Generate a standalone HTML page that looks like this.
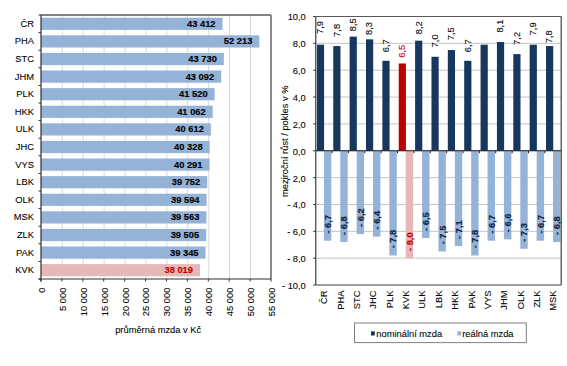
<!DOCTYPE html>
<html><head><meta charset="utf-8"><style>
html,body{margin:0;padding:0;background:#fff;width:567px;height:366px;overflow:hidden}

</style></head><body>
<svg width="567" height="366" viewBox="0 0 567 366" style="display:block">
<rect x="0" y="0" width="567" height="366" fill="#ffffff"/>
<line x1="62.31" y1="15.0" x2="62.31" y2="279.0" stroke="#dadada" stroke-width="1"/>
<line x1="83.22" y1="15.0" x2="83.22" y2="279.0" stroke="#dadada" stroke-width="1"/>
<line x1="104.13" y1="15.0" x2="104.13" y2="279.0" stroke="#dadada" stroke-width="1"/>
<line x1="125.04" y1="15.0" x2="125.04" y2="279.0" stroke="#dadada" stroke-width="1"/>
<line x1="145.95" y1="15.0" x2="145.95" y2="279.0" stroke="#dadada" stroke-width="1"/>
<line x1="166.86" y1="15.0" x2="166.86" y2="279.0" stroke="#dadada" stroke-width="1"/>
<line x1="187.77" y1="15.0" x2="187.77" y2="279.0" stroke="#dadada" stroke-width="1"/>
<line x1="208.68" y1="15.0" x2="208.68" y2="279.0" stroke="#dadada" stroke-width="1"/>
<line x1="229.59" y1="15.0" x2="229.59" y2="279.0" stroke="#dadada" stroke-width="1"/>
<line x1="250.50" y1="15.0" x2="250.50" y2="279.0" stroke="#dadada" stroke-width="1"/>
<rect x="41.0" y="17.69" width="181.54" height="12.22" fill="#95B3D7"/>
<text x="215.54" y="26.70" text-anchor="end" font-family='"Liberation Sans", sans-serif' font-size="9.33" font-weight="bold" fill="#000000" stroke="#000000" stroke-width="0.15">43 412</text>
<text x="34" y="26.70" text-anchor="end" font-family='"Liberation Sans", sans-serif' font-size="9.33" fill="#000000" stroke="#000000" stroke-width="0.08">ČR</text>
<rect x="41.0" y="35.29" width="218.35" height="12.22" fill="#95B3D7"/>
<text x="252.35" y="44.30" text-anchor="end" font-family='"Liberation Sans", sans-serif' font-size="9.33" font-weight="bold" fill="#000000" stroke="#000000" stroke-width="0.15">52 213</text>
<text x="34" y="44.30" text-anchor="end" font-family='"Liberation Sans", sans-serif' font-size="9.33" fill="#000000" stroke="#000000" stroke-width="0.08">PHA</text>
<rect x="41.0" y="52.89" width="182.87" height="12.22" fill="#95B3D7"/>
<text x="216.87" y="61.90" text-anchor="end" font-family='"Liberation Sans", sans-serif' font-size="9.33" font-weight="bold" fill="#000000" stroke="#000000" stroke-width="0.15">43 730</text>
<text x="34" y="61.90" text-anchor="end" font-family='"Liberation Sans", sans-serif' font-size="9.33" fill="#000000" stroke="#000000" stroke-width="0.08">STC</text>
<rect x="41.0" y="70.49" width="180.20" height="12.22" fill="#95B3D7"/>
<text x="214.20" y="79.50" text-anchor="end" font-family='"Liberation Sans", sans-serif' font-size="9.33" font-weight="bold" fill="#000000" stroke="#000000" stroke-width="0.15">43 092</text>
<text x="34" y="79.50" text-anchor="end" font-family='"Liberation Sans", sans-serif' font-size="9.33" fill="#000000" stroke="#000000" stroke-width="0.08">JHM</text>
<rect x="41.0" y="88.09" width="173.63" height="12.22" fill="#95B3D7"/>
<text x="207.63" y="97.10" text-anchor="end" font-family='"Liberation Sans", sans-serif' font-size="9.33" font-weight="bold" fill="#000000" stroke="#000000" stroke-width="0.15">41 520</text>
<text x="34" y="97.10" text-anchor="end" font-family='"Liberation Sans", sans-serif' font-size="9.33" fill="#000000" stroke="#000000" stroke-width="0.08">PLK</text>
<rect x="41.0" y="105.69" width="171.71" height="12.22" fill="#95B3D7"/>
<text x="205.71" y="114.70" text-anchor="end" font-family='"Liberation Sans", sans-serif' font-size="9.33" font-weight="bold" fill="#000000" stroke="#000000" stroke-width="0.15">41 062</text>
<text x="34" y="114.70" text-anchor="end" font-family='"Liberation Sans", sans-serif' font-size="9.33" fill="#000000" stroke="#000000" stroke-width="0.08">HKK</text>
<rect x="41.0" y="123.29" width="169.83" height="12.22" fill="#95B3D7"/>
<text x="203.83" y="132.30" text-anchor="end" font-family='"Liberation Sans", sans-serif' font-size="9.33" font-weight="bold" fill="#000000" stroke="#000000" stroke-width="0.15">40 612</text>
<text x="34" y="132.30" text-anchor="end" font-family='"Liberation Sans", sans-serif' font-size="9.33" fill="#000000" stroke="#000000" stroke-width="0.08">ULK</text>
<rect x="41.0" y="140.89" width="168.64" height="12.22" fill="#95B3D7"/>
<text x="202.64" y="149.90" text-anchor="end" font-family='"Liberation Sans", sans-serif' font-size="9.33" font-weight="bold" fill="#000000" stroke="#000000" stroke-width="0.15">40 328</text>
<text x="34" y="149.90" text-anchor="end" font-family='"Liberation Sans", sans-serif' font-size="9.33" fill="#000000" stroke="#000000" stroke-width="0.08">JHC</text>
<rect x="41.0" y="158.49" width="168.49" height="12.22" fill="#95B3D7"/>
<text x="202.49" y="167.50" text-anchor="end" font-family='"Liberation Sans", sans-serif' font-size="9.33" font-weight="bold" fill="#000000" stroke="#000000" stroke-width="0.15">40 291</text>
<text x="34" y="167.50" text-anchor="end" font-family='"Liberation Sans", sans-serif' font-size="9.33" fill="#000000" stroke="#000000" stroke-width="0.08">VYS</text>
<rect x="41.0" y="176.09" width="166.24" height="12.22" fill="#95B3D7"/>
<text x="200.24" y="185.10" text-anchor="end" font-family='"Liberation Sans", sans-serif' font-size="9.33" font-weight="bold" fill="#000000" stroke="#000000" stroke-width="0.15">39 752</text>
<text x="34" y="185.10" text-anchor="end" font-family='"Liberation Sans", sans-serif' font-size="9.33" fill="#000000" stroke="#000000" stroke-width="0.08">LBK</text>
<rect x="41.0" y="193.69" width="165.57" height="12.22" fill="#95B3D7"/>
<text x="199.57" y="202.70" text-anchor="end" font-family='"Liberation Sans", sans-serif' font-size="9.33" font-weight="bold" fill="#000000" stroke="#000000" stroke-width="0.15">39 594</text>
<text x="34" y="202.70" text-anchor="end" font-family='"Liberation Sans", sans-serif' font-size="9.33" fill="#000000" stroke="#000000" stroke-width="0.08">OLK</text>
<rect x="41.0" y="211.29" width="165.45" height="12.22" fill="#95B3D7"/>
<text x="199.45" y="220.30" text-anchor="end" font-family='"Liberation Sans", sans-serif' font-size="9.33" font-weight="bold" fill="#000000" stroke="#000000" stroke-width="0.15">39 563</text>
<text x="34" y="220.30" text-anchor="end" font-family='"Liberation Sans", sans-serif' font-size="9.33" fill="#000000" stroke="#000000" stroke-width="0.08">MSK</text>
<rect x="41.0" y="228.89" width="165.20" height="12.22" fill="#95B3D7"/>
<text x="199.20" y="237.90" text-anchor="end" font-family='"Liberation Sans", sans-serif' font-size="9.33" font-weight="bold" fill="#000000" stroke="#000000" stroke-width="0.15">39 505</text>
<text x="34" y="237.90" text-anchor="end" font-family='"Liberation Sans", sans-serif' font-size="9.33" fill="#000000" stroke="#000000" stroke-width="0.08">ZLK</text>
<rect x="41.0" y="246.49" width="164.53" height="12.22" fill="#95B3D7"/>
<text x="198.53" y="255.50" text-anchor="end" font-family='"Liberation Sans", sans-serif' font-size="9.33" font-weight="bold" fill="#000000" stroke="#000000" stroke-width="0.15">39 345</text>
<text x="34" y="255.50" text-anchor="end" font-family='"Liberation Sans", sans-serif' font-size="9.33" fill="#000000" stroke="#000000" stroke-width="0.08">PAK</text>
<rect x="41.0" y="264.09" width="158.99" height="12.22" fill="#E6B9B8"/>
<text x="192.99" y="273.10" text-anchor="end" font-family='"Liberation Sans", sans-serif' font-size="9.33" font-weight="bold" fill="#C00000" stroke="#C00000" stroke-width="0.15">38 019</text>
<text x="34" y="273.10" text-anchor="end" font-family='"Liberation Sans", sans-serif' font-size="9.33" fill="#000000" stroke="#000000" stroke-width="0.08">KVK</text>
<line x1="41.0" y1="15.0" x2="271.0" y2="15.0" stroke="#5a5a5a" stroke-width="1.4"/>
<line x1="271.0" y1="15.0" x2="271.0" y2="279.0" stroke="#5a5a5a" stroke-width="1.4"/>
<line x1="41.0" y1="15.0" x2="41.0" y2="281.5" stroke="#303030" stroke-width="1.2"/>
<line x1="38.5" y1="279.0" x2="271.0" y2="279.0" stroke="#303030" stroke-width="1.2"/>
<line x1="38.5" y1="15.00" x2="41.0" y2="15.00" stroke="#303030" stroke-width="1"/>
<line x1="38.5" y1="32.60" x2="41.0" y2="32.60" stroke="#303030" stroke-width="1"/>
<line x1="38.5" y1="50.20" x2="41.0" y2="50.20" stroke="#303030" stroke-width="1"/>
<line x1="38.5" y1="67.80" x2="41.0" y2="67.80" stroke="#303030" stroke-width="1"/>
<line x1="38.5" y1="85.40" x2="41.0" y2="85.40" stroke="#303030" stroke-width="1"/>
<line x1="38.5" y1="103.00" x2="41.0" y2="103.00" stroke="#303030" stroke-width="1"/>
<line x1="38.5" y1="120.60" x2="41.0" y2="120.60" stroke="#303030" stroke-width="1"/>
<line x1="38.5" y1="138.20" x2="41.0" y2="138.20" stroke="#303030" stroke-width="1"/>
<line x1="38.5" y1="155.80" x2="41.0" y2="155.80" stroke="#303030" stroke-width="1"/>
<line x1="38.5" y1="173.40" x2="41.0" y2="173.40" stroke="#303030" stroke-width="1"/>
<line x1="38.5" y1="191.00" x2="41.0" y2="191.00" stroke="#303030" stroke-width="1"/>
<line x1="38.5" y1="208.60" x2="41.0" y2="208.60" stroke="#303030" stroke-width="1"/>
<line x1="38.5" y1="226.20" x2="41.0" y2="226.20" stroke="#303030" stroke-width="1"/>
<line x1="38.5" y1="243.80" x2="41.0" y2="243.80" stroke="#303030" stroke-width="1"/>
<line x1="38.5" y1="261.40" x2="41.0" y2="261.40" stroke="#303030" stroke-width="1"/>
<line x1="38.5" y1="279.00" x2="41.0" y2="279.00" stroke="#303030" stroke-width="1"/>
<line x1="41.00" y1="279.0" x2="41.00" y2="281.5" stroke="#303030" stroke-width="1"/>
<text transform="translate(44.90,287.6) rotate(-90)" text-anchor="end" font-family='"Liberation Sans", sans-serif' font-size="9.33" fill="#000000" stroke="#000000" stroke-width="0.08">0</text>
<line x1="61.91" y1="279.0" x2="61.91" y2="281.5" stroke="#303030" stroke-width="1"/>
<text transform="translate(65.81,287.6) rotate(-90)" text-anchor="end" font-family='"Liberation Sans", sans-serif' font-size="9.33" fill="#000000" stroke="#000000" stroke-width="0.08">5 000</text>
<line x1="82.82" y1="279.0" x2="82.82" y2="281.5" stroke="#303030" stroke-width="1"/>
<text transform="translate(86.72,287.6) rotate(-90)" text-anchor="end" font-family='"Liberation Sans", sans-serif' font-size="9.33" fill="#000000" stroke="#000000" stroke-width="0.08">10 000</text>
<line x1="103.73" y1="279.0" x2="103.73" y2="281.5" stroke="#303030" stroke-width="1"/>
<text transform="translate(107.63,287.6) rotate(-90)" text-anchor="end" font-family='"Liberation Sans", sans-serif' font-size="9.33" fill="#000000" stroke="#000000" stroke-width="0.08">15 000</text>
<line x1="124.64" y1="279.0" x2="124.64" y2="281.5" stroke="#303030" stroke-width="1"/>
<text transform="translate(128.54,287.6) rotate(-90)" text-anchor="end" font-family='"Liberation Sans", sans-serif' font-size="9.33" fill="#000000" stroke="#000000" stroke-width="0.08">20 000</text>
<line x1="145.55" y1="279.0" x2="145.55" y2="281.5" stroke="#303030" stroke-width="1"/>
<text transform="translate(149.45,287.6) rotate(-90)" text-anchor="end" font-family='"Liberation Sans", sans-serif' font-size="9.33" fill="#000000" stroke="#000000" stroke-width="0.08">25 000</text>
<line x1="166.45" y1="279.0" x2="166.45" y2="281.5" stroke="#303030" stroke-width="1"/>
<text transform="translate(170.35,287.6) rotate(-90)" text-anchor="end" font-family='"Liberation Sans", sans-serif' font-size="9.33" fill="#000000" stroke="#000000" stroke-width="0.08">30 000</text>
<line x1="187.36" y1="279.0" x2="187.36" y2="281.5" stroke="#303030" stroke-width="1"/>
<text transform="translate(191.26,287.6) rotate(-90)" text-anchor="end" font-family='"Liberation Sans", sans-serif' font-size="9.33" fill="#000000" stroke="#000000" stroke-width="0.08">35 000</text>
<line x1="208.27" y1="279.0" x2="208.27" y2="281.5" stroke="#303030" stroke-width="1"/>
<text transform="translate(212.17,287.6) rotate(-90)" text-anchor="end" font-family='"Liberation Sans", sans-serif' font-size="9.33" fill="#000000" stroke="#000000" stroke-width="0.08">40 000</text>
<line x1="229.18" y1="279.0" x2="229.18" y2="281.5" stroke="#303030" stroke-width="1"/>
<text transform="translate(233.08,287.6) rotate(-90)" text-anchor="end" font-family='"Liberation Sans", sans-serif' font-size="9.33" fill="#000000" stroke="#000000" stroke-width="0.08">45 000</text>
<line x1="250.09" y1="279.0" x2="250.09" y2="281.5" stroke="#303030" stroke-width="1"/>
<text transform="translate(253.99,287.6) rotate(-90)" text-anchor="end" font-family='"Liberation Sans", sans-serif' font-size="9.33" fill="#000000" stroke="#000000" stroke-width="0.08">50 000</text>
<line x1="271.00" y1="279.0" x2="271.00" y2="281.5" stroke="#303030" stroke-width="1"/>
<text transform="translate(274.90,287.6) rotate(-90)" text-anchor="end" font-family='"Liberation Sans", sans-serif' font-size="9.33" fill="#000000" stroke="#000000" stroke-width="0.08">55 000</text>
<text x="158.2" y="333.3" text-anchor="middle" font-family='"Liberation Sans", sans-serif' font-size="9.33" fill="#000000" stroke="#000000" stroke-width="0.08">průměrná mzda v Kč</text>
<line x1="315.7" y1="258.15" x2="561.2" y2="258.15" stroke="#c4c4c4" stroke-width="1"/>
<line x1="315.7" y1="231.30" x2="561.2" y2="231.30" stroke="#c4c4c4" stroke-width="1"/>
<line x1="315.7" y1="204.45" x2="561.2" y2="204.45" stroke="#c4c4c4" stroke-width="1"/>
<line x1="315.7" y1="177.60" x2="561.2" y2="177.60" stroke="#c4c4c4" stroke-width="1"/>
<line x1="315.7" y1="150.75" x2="561.2" y2="150.75" stroke="#c4c4c4" stroke-width="1"/>
<line x1="315.7" y1="123.90" x2="561.2" y2="123.90" stroke="#c4c4c4" stroke-width="1"/>
<line x1="315.7" y1="97.05" x2="561.2" y2="97.05" stroke="#c4c4c4" stroke-width="1"/>
<line x1="315.7" y1="70.20" x2="561.2" y2="70.20" stroke="#c4c4c4" stroke-width="1"/>
<line x1="315.7" y1="43.35" x2="561.2" y2="43.35" stroke="#c4c4c4" stroke-width="1"/>
<rect x="316.90" y="44.69" width="7.20" height="106.06" fill="#17375E"/>
<rect x="323.90" y="150.75" width="7.40" height="89.95" fill="#95B3D7"/>
<text transform="translate(323.30,34.00) rotate(-90)" font-family='"Liberation Sans", sans-serif' font-size="9.33" fill="#000000" stroke="#000000" stroke-width="0.08">7,9</text>
<text transform="translate(331.00,233.60) rotate(-90)" font-family='"Liberation Sans", sans-serif' font-size="9.33" font-weight="bold" fill="#0F2341" stroke="#0F2341" stroke-width="0.15">- 6,7</text>
<text transform="translate(327.28,290.5) rotate(-90)" text-anchor="end" font-family='"Liberation Sans", sans-serif' font-size="9.33" fill="#000000" stroke="#000000" stroke-width="0.08">ČR</text>
<rect x="333.27" y="46.04" width="7.20" height="104.72" fill="#17375E"/>
<rect x="340.27" y="150.75" width="7.40" height="91.29" fill="#95B3D7"/>
<text transform="translate(339.67,36.90) rotate(-90)" font-family='"Liberation Sans", sans-serif' font-size="9.33" fill="#000000" stroke="#000000" stroke-width="0.08">7,8</text>
<text transform="translate(347.37,234.94) rotate(-90)" font-family='"Liberation Sans", sans-serif' font-size="9.33" font-weight="bold" fill="#0F2341" stroke="#0F2341" stroke-width="0.15">- 6,8</text>
<text transform="translate(343.65,290.5) rotate(-90)" text-anchor="end" font-family='"Liberation Sans", sans-serif' font-size="9.33" fill="#000000" stroke="#000000" stroke-width="0.08">PHA</text>
<rect x="349.63" y="36.64" width="7.20" height="114.11" fill="#17375E"/>
<rect x="356.63" y="150.75" width="7.40" height="83.24" fill="#95B3D7"/>
<text transform="translate(356.03,31.20) rotate(-90)" font-family='"Liberation Sans", sans-serif' font-size="9.33" fill="#000000" stroke="#000000" stroke-width="0.08">8,5</text>
<text transform="translate(363.73,226.89) rotate(-90)" font-family='"Liberation Sans", sans-serif' font-size="9.33" font-weight="bold" fill="#0F2341" stroke="#0F2341" stroke-width="0.15">- 6,2</text>
<text transform="translate(360.02,290.5) rotate(-90)" text-anchor="end" font-family='"Liberation Sans", sans-serif' font-size="9.33" fill="#000000" stroke="#000000" stroke-width="0.08">STC</text>
<rect x="366.00" y="39.32" width="7.20" height="111.43" fill="#17375E"/>
<rect x="373.00" y="150.75" width="7.40" height="85.92" fill="#95B3D7"/>
<text transform="translate(372.40,35.00) rotate(-90)" font-family='"Liberation Sans", sans-serif' font-size="9.33" fill="#000000" stroke="#000000" stroke-width="0.08">8,3</text>
<text transform="translate(380.10,229.57) rotate(-90)" font-family='"Liberation Sans", sans-serif' font-size="9.33" font-weight="bold" fill="#0F2341" stroke="#0F2341" stroke-width="0.15">- 6,4</text>
<text transform="translate(376.38,290.5) rotate(-90)" text-anchor="end" font-family='"Liberation Sans", sans-serif' font-size="9.33" fill="#000000" stroke="#000000" stroke-width="0.08">JHC</text>
<rect x="382.37" y="60.80" width="7.20" height="89.95" fill="#17375E"/>
<rect x="389.37" y="150.75" width="7.40" height="104.72" fill="#95B3D7"/>
<text transform="translate(388.77,52.30) rotate(-90)" font-family='"Liberation Sans", sans-serif' font-size="9.33" fill="#000000" stroke="#000000" stroke-width="0.08">6,7</text>
<text transform="translate(396.47,248.37) rotate(-90)" font-family='"Liberation Sans", sans-serif' font-size="9.33" font-weight="bold" fill="#0F2341" stroke="#0F2341" stroke-width="0.15">- 7,8</text>
<text transform="translate(392.75,290.5) rotate(-90)" text-anchor="end" font-family='"Liberation Sans", sans-serif' font-size="9.33" fill="#000000" stroke="#000000" stroke-width="0.08">PLK</text>
<rect x="398.73" y="63.49" width="7.20" height="87.26" fill="#C00000"/>
<rect x="405.73" y="150.75" width="7.40" height="107.40" fill="#E6B9B8"/>
<text transform="translate(405.13,57.70) rotate(-90)" font-family='"Liberation Sans", sans-serif' font-size="9.33" fill="#C00000" stroke="#C00000" stroke-width="0.08">6,5</text>
<text transform="translate(412.83,251.05) rotate(-90)" font-family='"Liberation Sans", sans-serif' font-size="9.33" font-weight="bold" fill="#C00000" stroke="#C00000" stroke-width="0.15">- 8,0</text>
<text transform="translate(409.12,290.5) rotate(-90)" text-anchor="end" font-family='"Liberation Sans", sans-serif' font-size="9.33" fill="#000000" stroke="#000000" stroke-width="0.08">KVK</text>
<rect x="415.10" y="40.67" width="7.20" height="110.08" fill="#17375E"/>
<rect x="422.10" y="150.75" width="7.40" height="87.26" fill="#95B3D7"/>
<text transform="translate(421.50,34.30) rotate(-90)" font-family='"Liberation Sans", sans-serif' font-size="9.33" fill="#000000" stroke="#000000" stroke-width="0.08">8,2</text>
<text transform="translate(429.20,230.91) rotate(-90)" font-family='"Liberation Sans", sans-serif' font-size="9.33" font-weight="bold" fill="#0F2341" stroke="#0F2341" stroke-width="0.15">- 6,5</text>
<text transform="translate(425.48,290.5) rotate(-90)" text-anchor="end" font-family='"Liberation Sans", sans-serif' font-size="9.33" fill="#000000" stroke="#000000" stroke-width="0.08">ULK</text>
<rect x="431.47" y="56.78" width="7.20" height="93.97" fill="#17375E"/>
<rect x="438.47" y="150.75" width="7.40" height="100.69" fill="#95B3D7"/>
<text transform="translate(437.87,47.40) rotate(-90)" font-family='"Liberation Sans", sans-serif' font-size="9.33" fill="#000000" stroke="#000000" stroke-width="0.08">7,0</text>
<text transform="translate(445.57,244.34) rotate(-90)" font-family='"Liberation Sans", sans-serif' font-size="9.33" font-weight="bold" fill="#0F2341" stroke="#0F2341" stroke-width="0.15">- 7,5</text>
<text transform="translate(441.85,290.5) rotate(-90)" text-anchor="end" font-family='"Liberation Sans", sans-serif' font-size="9.33" fill="#000000" stroke="#000000" stroke-width="0.08">LBK</text>
<rect x="447.83" y="50.06" width="7.20" height="100.69" fill="#17375E"/>
<rect x="454.83" y="150.75" width="7.40" height="95.32" fill="#95B3D7"/>
<text transform="translate(454.23,40.30) rotate(-90)" font-family='"Liberation Sans", sans-serif' font-size="9.33" fill="#000000" stroke="#000000" stroke-width="0.08">7,5</text>
<text transform="translate(461.93,238.97) rotate(-90)" font-family='"Liberation Sans", sans-serif' font-size="9.33" font-weight="bold" fill="#0F2341" stroke="#0F2341" stroke-width="0.15">- 7,1</text>
<text transform="translate(458.22,290.5) rotate(-90)" text-anchor="end" font-family='"Liberation Sans", sans-serif' font-size="9.33" fill="#000000" stroke="#000000" stroke-width="0.08">HKK</text>
<rect x="464.20" y="60.80" width="7.20" height="89.95" fill="#17375E"/>
<rect x="471.20" y="150.75" width="7.40" height="104.72" fill="#95B3D7"/>
<text transform="translate(470.60,52.30) rotate(-90)" font-family='"Liberation Sans", sans-serif' font-size="9.33" fill="#000000" stroke="#000000" stroke-width="0.08">6,7</text>
<text transform="translate(478.30,248.37) rotate(-90)" font-family='"Liberation Sans", sans-serif' font-size="9.33" font-weight="bold" fill="#0F2341" stroke="#0F2341" stroke-width="0.15">- 7,8</text>
<text transform="translate(474.58,290.5) rotate(-90)" text-anchor="end" font-family='"Liberation Sans", sans-serif' font-size="9.33" fill="#000000" stroke="#000000" stroke-width="0.08">PAK</text>
<rect x="480.57" y="44.69" width="7.20" height="106.06" fill="#17375E"/>
<rect x="487.57" y="150.75" width="7.40" height="89.95" fill="#95B3D7"/>
<text transform="translate(494.67,233.60) rotate(-90)" font-family='"Liberation Sans", sans-serif' font-size="9.33" font-weight="bold" fill="#0F2341" stroke="#0F2341" stroke-width="0.15">- 6,7</text>
<text transform="translate(490.95,290.5) rotate(-90)" text-anchor="end" font-family='"Liberation Sans", sans-serif' font-size="9.33" fill="#000000" stroke="#000000" stroke-width="0.08">VYS</text>
<rect x="496.93" y="42.01" width="7.20" height="108.74" fill="#17375E"/>
<rect x="503.93" y="150.75" width="7.40" height="88.61" fill="#95B3D7"/>
<text transform="translate(503.33,32.60) rotate(-90)" font-family='"Liberation Sans", sans-serif' font-size="9.33" fill="#000000" stroke="#000000" stroke-width="0.08">8,1</text>
<text transform="translate(511.03,232.26) rotate(-90)" font-family='"Liberation Sans", sans-serif' font-size="9.33" font-weight="bold" fill="#0F2341" stroke="#0F2341" stroke-width="0.15">- 6,6</text>
<text transform="translate(507.32,290.5) rotate(-90)" text-anchor="end" font-family='"Liberation Sans", sans-serif' font-size="9.33" fill="#000000" stroke="#000000" stroke-width="0.08">JHM</text>
<rect x="513.30" y="54.09" width="7.20" height="96.66" fill="#17375E"/>
<rect x="520.30" y="150.75" width="7.40" height="98.00" fill="#95B3D7"/>
<text transform="translate(519.70,44.90) rotate(-90)" font-family='"Liberation Sans", sans-serif' font-size="9.33" fill="#000000" stroke="#000000" stroke-width="0.08">7,2</text>
<text transform="translate(527.40,241.65) rotate(-90)" font-family='"Liberation Sans", sans-serif' font-size="9.33" font-weight="bold" fill="#0F2341" stroke="#0F2341" stroke-width="0.15">- 7,3</text>
<text transform="translate(523.68,290.5) rotate(-90)" text-anchor="end" font-family='"Liberation Sans", sans-serif' font-size="9.33" fill="#000000" stroke="#000000" stroke-width="0.08">OLK</text>
<rect x="529.67" y="44.69" width="7.20" height="106.06" fill="#17375E"/>
<rect x="536.67" y="150.75" width="7.40" height="89.95" fill="#95B3D7"/>
<text transform="translate(536.07,35.40) rotate(-90)" font-family='"Liberation Sans", sans-serif' font-size="9.33" fill="#000000" stroke="#000000" stroke-width="0.08">7,9</text>
<text transform="translate(543.77,233.60) rotate(-90)" font-family='"Liberation Sans", sans-serif' font-size="9.33" font-weight="bold" fill="#0F2341" stroke="#0F2341" stroke-width="0.15">- 6,7</text>
<text transform="translate(540.05,290.5) rotate(-90)" text-anchor="end" font-family='"Liberation Sans", sans-serif' font-size="9.33" fill="#000000" stroke="#000000" stroke-width="0.08">ZLK</text>
<rect x="546.03" y="46.04" width="7.20" height="104.72" fill="#17375E"/>
<rect x="553.03" y="150.75" width="7.40" height="91.29" fill="#95B3D7"/>
<text transform="translate(552.43,43.30) rotate(-90)" font-family='"Liberation Sans", sans-serif' font-size="9.33" fill="#000000" stroke="#000000" stroke-width="0.08">7,8</text>
<text transform="translate(560.13,234.94) rotate(-90)" font-family='"Liberation Sans", sans-serif' font-size="9.33" font-weight="bold" fill="#0F2341" stroke="#0F2341" stroke-width="0.15">- 6,8</text>
<text transform="translate(556.42,290.5) rotate(-90)" text-anchor="end" font-family='"Liberation Sans", sans-serif' font-size="9.33" fill="#000000" stroke="#000000" stroke-width="0.08">MSK</text>
<line x1="315.7" y1="16.5" x2="561.2" y2="16.5" stroke="#5a5a5a" stroke-width="1.2"/>
<line x1="561.2" y1="16.5" x2="561.2" y2="285.0" stroke="#404040" stroke-width="1.2"/>
<line x1="315.7" y1="285.0" x2="561.2" y2="285.0" stroke="#404040" stroke-width="1.2"/>
<line x1="315.7" y1="16.5" x2="315.7" y2="285.0" stroke="#5a5a5a" stroke-width="1.4"/>
<line x1="315.7" y1="150.75" x2="561.2" y2="150.75" stroke="#202020" stroke-width="1.2"/>
<line x1="332.07" y1="150.75" x2="332.07" y2="153.25" stroke="#202020" stroke-width="1"/>
<line x1="348.43" y1="150.75" x2="348.43" y2="153.25" stroke="#202020" stroke-width="1"/>
<line x1="364.80" y1="150.75" x2="364.80" y2="153.25" stroke="#202020" stroke-width="1"/>
<line x1="381.17" y1="150.75" x2="381.17" y2="153.25" stroke="#202020" stroke-width="1"/>
<line x1="397.53" y1="150.75" x2="397.53" y2="153.25" stroke="#202020" stroke-width="1"/>
<line x1="413.90" y1="150.75" x2="413.90" y2="153.25" stroke="#202020" stroke-width="1"/>
<line x1="430.27" y1="150.75" x2="430.27" y2="153.25" stroke="#202020" stroke-width="1"/>
<line x1="446.63" y1="150.75" x2="446.63" y2="153.25" stroke="#202020" stroke-width="1"/>
<line x1="463.00" y1="150.75" x2="463.00" y2="153.25" stroke="#202020" stroke-width="1"/>
<line x1="479.37" y1="150.75" x2="479.37" y2="153.25" stroke="#202020" stroke-width="1"/>
<line x1="495.73" y1="150.75" x2="495.73" y2="153.25" stroke="#202020" stroke-width="1"/>
<line x1="512.10" y1="150.75" x2="512.10" y2="153.25" stroke="#202020" stroke-width="1"/>
<line x1="528.47" y1="150.75" x2="528.47" y2="153.25" stroke="#202020" stroke-width="1"/>
<line x1="544.83" y1="150.75" x2="544.83" y2="153.25" stroke="#202020" stroke-width="1"/>
<line x1="313.2" y1="285.00" x2="315.7" y2="285.00" stroke="#303030" stroke-width="1"/>
<text x="305.8" y="288.90" text-anchor="end" font-family='"Liberation Sans", sans-serif' font-size="9.33" fill="#000000" stroke="#000000" stroke-width="0.08">- 10,0</text>
<line x1="313.2" y1="258.15" x2="315.7" y2="258.15" stroke="#303030" stroke-width="1"/>
<text x="305.8" y="262.05" text-anchor="end" font-family='"Liberation Sans", sans-serif' font-size="9.33" fill="#000000" stroke="#000000" stroke-width="0.08">- 8,0</text>
<line x1="313.2" y1="231.30" x2="315.7" y2="231.30" stroke="#303030" stroke-width="1"/>
<text x="305.8" y="235.20" text-anchor="end" font-family='"Liberation Sans", sans-serif' font-size="9.33" fill="#000000" stroke="#000000" stroke-width="0.08">- 6,0</text>
<line x1="313.2" y1="204.45" x2="315.7" y2="204.45" stroke="#303030" stroke-width="1"/>
<text x="305.8" y="208.35" text-anchor="end" font-family='"Liberation Sans", sans-serif' font-size="9.33" fill="#000000" stroke="#000000" stroke-width="0.08">- 4,0</text>
<line x1="313.2" y1="177.60" x2="315.7" y2="177.60" stroke="#303030" stroke-width="1"/>
<text x="305.8" y="181.50" text-anchor="end" font-family='"Liberation Sans", sans-serif' font-size="9.33" fill="#000000" stroke="#000000" stroke-width="0.08">- 2,0</text>
<line x1="313.2" y1="150.75" x2="315.7" y2="150.75" stroke="#303030" stroke-width="1"/>
<text x="305.8" y="154.65" text-anchor="end" font-family='"Liberation Sans", sans-serif' font-size="9.33" fill="#000000" stroke="#000000" stroke-width="0.08">0,0</text>
<line x1="313.2" y1="123.90" x2="315.7" y2="123.90" stroke="#303030" stroke-width="1"/>
<text x="305.8" y="127.80" text-anchor="end" font-family='"Liberation Sans", sans-serif' font-size="9.33" fill="#000000" stroke="#000000" stroke-width="0.08">2,0</text>
<line x1="313.2" y1="97.05" x2="315.7" y2="97.05" stroke="#303030" stroke-width="1"/>
<text x="305.8" y="100.95" text-anchor="end" font-family='"Liberation Sans", sans-serif' font-size="9.33" fill="#000000" stroke="#000000" stroke-width="0.08">4,0</text>
<line x1="313.2" y1="70.20" x2="315.7" y2="70.20" stroke="#303030" stroke-width="1"/>
<text x="305.8" y="74.10" text-anchor="end" font-family='"Liberation Sans", sans-serif' font-size="9.33" fill="#000000" stroke="#000000" stroke-width="0.08">6,0</text>
<line x1="313.2" y1="43.35" x2="315.7" y2="43.35" stroke="#303030" stroke-width="1"/>
<text x="305.8" y="47.25" text-anchor="end" font-family='"Liberation Sans", sans-serif' font-size="9.33" fill="#000000" stroke="#000000" stroke-width="0.08">8,0</text>
<line x1="313.2" y1="16.50" x2="315.7" y2="16.50" stroke="#303030" stroke-width="1"/>
<text x="305.8" y="20.40" text-anchor="end" font-family='"Liberation Sans", sans-serif' font-size="9.33" fill="#000000" stroke="#000000" stroke-width="0.08">10,0</text>
<text transform="translate(288,141.2) rotate(-90)" text-anchor="middle" font-family='"Liberation Sans", sans-serif' font-size="9.33" fill="#000000" stroke="#000000" stroke-width="0.08">meziroční růst / pokles v %</text>
<rect x="354.5" y="323" width="171.8" height="19.6" fill="#ffffff" stroke="#808080" stroke-width="1"/>
<rect x="371" y="331.3" width="3.8" height="4.2" fill="#17375E"/>
<text x="376.3" y="336.6" font-family='"Liberation Sans", sans-serif' font-size="9.33" fill="#000000" stroke="#000000" stroke-width="0.08">nominální mzda</text>
<rect x="457.4" y="331.3" width="3.8" height="4.2" fill="#95B3D7"/>
<text x="462.2" y="336.6" font-family='"Liberation Sans", sans-serif' font-size="9.33" fill="#000000" stroke="#000000" stroke-width="0.08">reálná mzda</text>
</svg>
</body></html>
